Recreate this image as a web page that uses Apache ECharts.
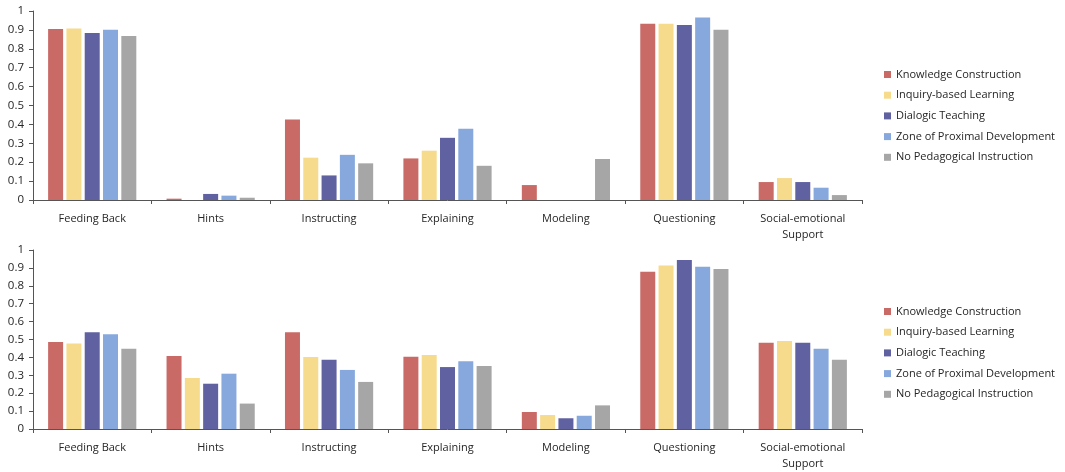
<!DOCTYPE html>
<html><head><meta charset="utf-8">
<script src="https://cdn.jsdelivr.net/npm/echarts@6/dist/echarts.min.js"></script>
<style>html,body{margin:0;padding:0;background:#fff}#c{width:1065px;height:472px}</style>
</head><body><div id="c"></div>
<script>
const categories = ['Feeding Back','Hints','Instructing','Explaining','Modeling','Questioning','Social-emotional\nSupport'];
const seriesNames = ['Knowledge Construction','Inquiry-based Learning','Dialogic Teaching','Zone of Proximal Development','No Pedagogical Instruction'];
const colors = ['#CA6A66','#F6DB8D','#6061A1','#86A8DD','#A6A6A6'];
const yTicks = [0,0.1,0.2,0.3,0.4,0.5,0.6,0.7,0.8,0.9,1];
// Top chart
const topKC  = [0.905,0.007,0.426,0.220,0.079,0.933,0.095];
const topIBL = [0.907,0,0.224,0.261,0,0.933,0.116];
const topDT  = [0.884,0.032,0.130,0.329,0,0.926,0.095];
const topZPD = [0.901,0.023,0.239,0.377,0,0.965,0.065];
const topNPI = [0.868,0.012,0.194,0.181,0.217,0.901,0.026];
// Bottom chart
const botKC  = [0.486,0.408,0.540,0.404,0.095,0.879,0.482];
const botIBL = [0.477,0.285,0.402,0.413,0.078,0.914,0.492];
const botDT  = [0.540,0.253,0.387,0.346,0.060,0.944,0.482];
const botZPD = [0.529,0.309,0.330,0.378,0.074,0.907,0.449];
const botNPI = [0.449,0.142,0.263,0.352,0.132,0.894,0.387];

const topData = [topKC,topIBL,topDT,topZPD,topNPI];
const botData = [botKC,botIBL,botDT,botZPD,botNPI];
const font = 'Open Sans';
const txt = '#262626';

function xAxis(gi){
  return {type:'category',gridIndex:gi,data:categories,
    axisLine:{lineStyle:{color:'#555',width:1}},
    axisTick:{show:true,alignWithLabel:false,length:4,lineStyle:{color:'#555'}},
    axisLabel:{color:txt,fontFamily:font,fontSize:11,margin:11,interval:0,lineHeight:16}};
}
function yAxis(gi){
  return {type:'value',gridIndex:gi,min:0,max:1,interval:0.1,
    axisLine:{show:true,lineStyle:{color:'#555'}},
    axisTick:{show:true,length:4,lineStyle:{color:'#555'}},
    splitLine:{show:false},
    axisLabel:{color:txt,fontFamily:font,fontSize:11.5,margin:9,
      formatter:v=>{const t=yTicks.find(x=>Math.abs(x-v)<1e-6);return t===undefined?'':String(t);}}};
}
const series=[];
[topData,botData].forEach((d,gi)=>{
  d.forEach((vals,i)=>{
    series.push({name:seriesNames[i],type:'bar',xAxisIndex:gi,yAxisIndex:gi,data:vals,
      barWidth:15,barGap:'22%',
      itemStyle:{color:colors[i]},
      emphasis:{disabled:true}});
  });
});
function legend(top){
  return {data:seriesNames,orient:'vertical',left:879,top:top,itemWidth:7,itemHeight:7,itemGap:9.7,
    icon:'rect',textStyle:{color:txt,fontFamily:font,fontSize:11},selectedMode:false};
}
const chart=echarts.init(document.getElementById('c'),null,{renderer:'canvas'});
chart.setOption({
  animation:false,
  backgroundColor:'#fff',
  color:colors,
  grid:[{left:33,right:203,top:11,height:189},{left:33,right:203,top:250,height:179}],
  xAxis:[xAxis(0),xAxis(1)],
  yAxis:[yAxis(0),yAxis(1)],
  legend:[legend(64),legend(301)],
  series:series
});
</script></body></html>
